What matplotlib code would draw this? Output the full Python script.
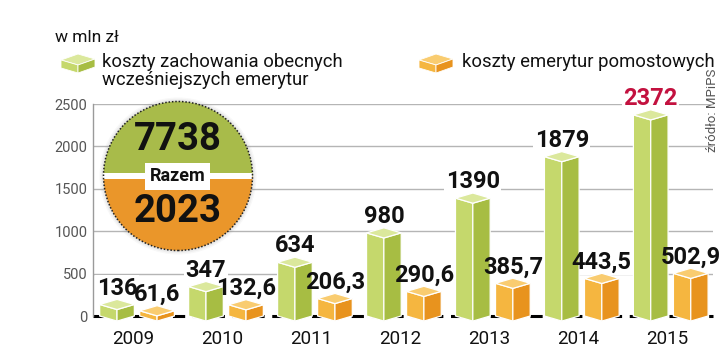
import matplotlib
matplotlib.use("Agg")
import matplotlib.pyplot as plt
from matplotlib.patches import Polygon, Circle, Wedge, Rectangle

plt.rcParams['font.family'] = ['Roboto', 'DejaVu Sans']

years = ["2009", "2010", "2011", "2012", "2013", "2014", "2015"]
green_vals = [136, 347, 634, 980, 1390, 1879, 2372]
orange_vals = [61.6, 132.6, 206.3, 290.6, 385.7, 443.5, 502.9]
green_labels = ["136", "347", "634", "980", "1390", "1879", "2372"]
orange_labels = ["61,6", "132,6", "206,3", "290,6", "385,7", "443,5", "502,9"]
series_names = ["koszty zachowania obecnych\nwcześniejszych emerytur", "koszty emerytur pomostowych"]
total_green = "7738"
total_orange = "2023"
yticks = [0, 500, 1000, 1500, 2000, 2500]

G_LIGHT, G_DARK, G_TOP = "#c5d86c", "#a7bd43", "#dbe89c"
O_LIGHT, O_DARK, O_TOP = "#f5b640", "#e8931e", "#f9cc70"
RED = "#c3113f"

fig = plt.figure(figsize=(7.2, 3.6), dpi=100)
fig.patch.set_facecolor("white")

# Overlay in pixel coordinates for header/legend/source
ov = fig.add_axes([0, 0, 1, 1])
ov.set_xlim(0, 720)
ov.set_ylim(360, 0)
ov.axis("off")

ax = fig.add_axes([93/720, 44/360, 620/720, 212/360])
ax.patch.set_visible(False)
ax.set_xlim(-0.45, 6.52)
ax.set_ylim(0, 2500)

for s in ["top", "right", "bottom"]:
    ax.spines[s].set_visible(False)
ax.spines["left"].set_color("#9a9a9a")
ax.spines["left"].set_linewidth(1)
ax.set_yticks(yticks)
ax.set_yticklabels([str(t) for t in yticks], color="#555555", fontsize=10.5)
ax.tick_params(axis="y", length=0, pad=4)
for t in yticks[1:]:
    ax.axhline(t, color="#b5b5b5", lw=1, zorder=0.5)
ax.axhline(0, color="black", lw=2.2, dashes=(4, 2.5), zorder=0.6, clip_on=False)

xs = list(range(len(years)))
ax.set_xticks(xs)
ax.set_xticklabels(years, fontsize=13.5, color="#111111")
ax.tick_params(axis="x", length=0, pad=10)

W = 0.39
D = 60  # cube depth in data units


def cube(xc, v, light, dark, top):
    x0, x1 = xc - W/2, xc + W/2
    left = [(x0, 0), (xc, -D), (xc, v - D), (x0, v)]
    right = [(xc, -D), (x1, 0), (x1, v), (xc, v - D)]
    topf = [(x0, v), (xc, v - D), (x1, v), (xc, v + D)]
    for pts, c in ((left, light), (right, dark), (topf, top)):
        ax.add_patch(Polygon(pts, closed=True, facecolor=c, edgecolor="white",
                             lw=0.9, zorder=2, clip_on=False))


def label(xc, v, txt, color="#111111"):
    kw = dict(ha="center", va="baseline", fontsize=17, fontweight="bold",
              clip_on=False)
    ax.text(xc, v + 115, txt, color="white", zorder=1.5,
            bbox=dict(facecolor="white", edgecolor="none", pad=1), **kw)
    ax.text(xc, v + 115, txt, color=color, zorder=4, **kw)


for i in xs:
    gx = i - 0.18
    ox = i + 0.27
    cube(gx, green_vals[i], G_LIGHT, G_DARK, G_TOP)
    cube(ox, orange_vals[i], O_LIGHT, O_DARK, O_TOP)
    label(gx, green_vals[i], green_labels[i], RED if i == len(xs) - 1 else "#111111")
    label(ox, orange_vals[i], orange_labels[i])

# Total circle
cax = fig.add_axes([(178-80)/720, (360-176-80)/360, 160/720, 160/360])
cax.set_xlim(-80, 80)
cax.set_ylim(-80, 80)
cax.set_aspect("equal")
cax.axis("off")
R = 74.5
for k, a in enumerate([0.06, 0.08, 0.10]):
    cax.add_patch(Circle((0, 0), R + 4 - k * 1.3, facecolor="#888888", edgecolor="none", alpha=a))
cax.add_patch(Wedge((0, 0), R, 0, 180, facecolor="#a8bb4a", edgecolor="none"))
cax.add_patch(Wedge((0, 0), R, 180, 360, facecolor="#ea962a", edgecolor="none"))
cax.add_patch(Rectangle((-R, -3), 2 * R, 6, facecolor="white", edgecolor="none"))
cax.add_patch(Circle((0, 0), R, facecolor="none", edgecolor="#222222", lw=1.1, ls=(0, (1, 1.2))))
cax.add_patch(Rectangle((-33, -13.5), 65, 27, facecolor="white", edgecolor="none"))
cax.text(0, 0, "Razem", ha="center", va="center", fontsize=13, fontweight="bold", color="#111111")
cax.text(0, 36, total_green, ha="center", va="center", fontsize=27.5, fontweight="bold", color="#111111")
cax.text(0, -36, total_orange, ha="center", va="center", fontsize=27.5, fontweight="bold", color="#111111")

ov.text(55, 37, "w mln zł", fontsize=12.5, va="center", ha="left", color="#111111")


def icon(x, y, light, dark, top):
    # flat box icon
    ov.add_patch(Polygon([(x, y), (x + 17, y - 6), (x + 34, y - 1), (x + 17, y + 5)],
                         facecolor=top, edgecolor="white", lw=0.6))
    ov.add_patch(Polygon([(x, y), (x + 17, y + 5), (x + 17, y + 13), (x, y + 8)],
                         facecolor=light, edgecolor="white", lw=0.6))
    ov.add_patch(Polygon([(x + 17, y + 5), (x + 34, y - 1), (x + 34, y + 7), (x + 17, y + 13)],
                         facecolor=dark, edgecolor="white", lw=0.6))


icon(61, 60, G_LIGHT, G_DARK, G_TOP)
icon(419, 60, O_LIGHT, O_DARK, O_TOP)
ov.text(102, 71, series_names[0], fontsize=13.3, va="center", ha="left",
        color="#111111", linespacing=1.05)
ov.text(462, 62, series_names[1], fontsize=13.3, va="center", ha="left", color="#111111")
ov.text(712, 110, "źródło: MPiPS", rotation=90, fontsize=9.5, va="center", ha="center",
        color="#555555")

fig.savefig("out.png", dpi=100, facecolor="white")
